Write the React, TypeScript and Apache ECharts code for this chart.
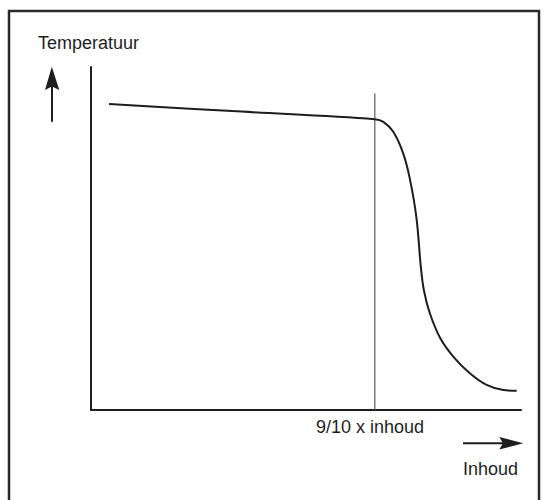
import React, { useEffect, useRef } from "react";
import * as echarts from "echarts";

// Curve: temperature vs. content (x in % of axis length, y in % of axis height)
const curveX = [4.2, 35.0, 66.0, 68.0, 70.3, 72.6, 74.2, 75.7, 76.7, 77.4, 78.8, 81.2, 84.3, 88.1, 92.0, 95.9, 99.0];
const curveY = [89.2, 87.0, 84.8, 84.0, 81.1, 74.8, 67.1, 55.9, 41.8, 35.0, 28.2, 21.0, 15.5, 10.7, 7.3, 5.8, 5.6];

// Vertical marker at 9/10 x inhoud
const markerX = 66.0;
const markerTop = 92.3;

const yAxisTitle = "Temperatuur";
const markerLabel = "9/10 x inhoud";
const xAxisTitle = "Inhoud";

export default function App() {
  const ref = useRef<HTMLDivElement>(null);
  useEffect(() => {
    if (!ref.current) return;
    const chart = echarts.init(ref.current, null, { renderer: "svg" });
    const font = "18px 'Liberation Sans', Arial, Helvetica, sans-serif";
    const ink = "#1e1e1e";
    chart.setOption({
      animation: false,
      backgroundColor: "#ffffff",
      grid: { left: 91, right: 27, top: 67, bottom: 90 },
      xAxis: {
        type: "value",
        min: 0,
        max: 100,
        axisLine: { show: true, onZero: false, lineStyle: { color: ink, width: 2 } },
        axisTick: { show: false },
        axisLabel: { show: false },
        splitLine: { show: false },
      },
      yAxis: {
        type: "value",
        min: 0,
        max: 100,
        axisLine: { show: true, onZero: false, lineStyle: { color: ink, width: 2 } },
        axisTick: { show: false },
        axisLabel: { show: false },
        splitLine: { show: false },
      },
      series: [
        {
          type: "line",
          data: [
            [markerX, 0],
            [markerX, markerTop],
          ],
          showSymbol: false,
          symbol: "none",
          lineStyle: { color: "#5a5a5a", width: 1.2 },
          silent: true,
          z: 1,
        },
        {
          type: "line",
          data: curveX.map((x, i) => [x, curveY[i]]),
          smooth: 0.35,
          symbol: "none",
          showSymbol: false,
          lineStyle: { color: ink, width: 2 },
          silent: true,
          z: 2,
        },
      ],
      graphic: [
        {
          type: "rect",
          shape: { x: 9, y: 11, width: 530, height: 520 },
          style: { fill: "none", stroke: "#2a2a2a", lineWidth: 2.5 },
          silent: true,
        },
        {
          type: "text",
          x: 38,
          y: 42.8,
          style: { text: yAxisTitle, font, fill: ink, align: "left", verticalAlign: "middle" },
        },
        {
          type: "text",
          x: 316,
          y: 426.8,
          style: { text: markerLabel, font, fill: ink, align: "left", verticalAlign: "middle" },
        },
        {
          type: "text",
          x: 463,
          y: 468.8,
          style: { text: xAxisTitle, font, fill: ink, align: "left", verticalAlign: "middle" },
        },
        {
          type: "line",
          shape: { x1: 52, y1: 121.7, x2: 52, y2: 86 },
          style: { stroke: ink, lineWidth: 2 },
        },
        {
          type: "polygon",
          shape: { points: [[51.8, 66.7], [59.3, 90], [52, 86.5], [45, 90]] },
          style: { fill: ink },
        },
        {
          type: "line",
          shape: { x1: 463, y1: 443.3, x2: 505, y2: 443.3 },
          style: { stroke: ink, lineWidth: 2 },
        },
        {
          type: "polygon",
          shape: { points: [[523.3, 443.3], [499.3, 449.6], [503, 443.3], [499.3, 437]] },
          style: { fill: ink },
        },
      ],
    });
    return () => chart.dispose();
  }, []);
  return (
    <div
      ref={ref}
      style={{ position: "fixed", left: 0, top: 0, width: 548, height: 500, background: "#fff" }}
    />
  );
}
